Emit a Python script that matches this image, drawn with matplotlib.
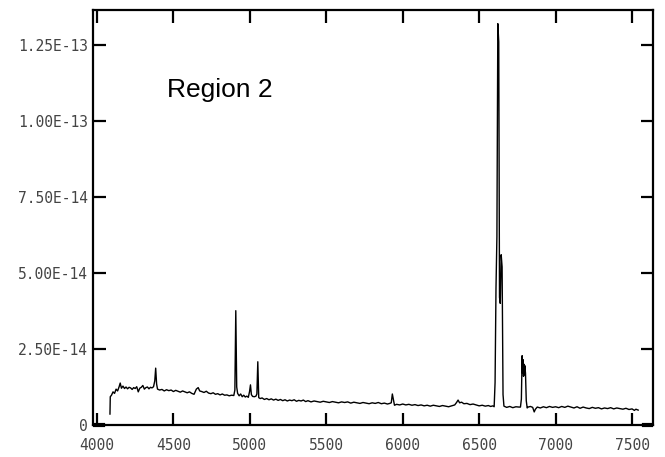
import numpy as np
import matplotlib
matplotlib.use("Agg")
import matplotlib.pyplot as plt

# spectrum of region 2: wavelength (A) and flux (units of 1e-15)
wave = [4085, 4087, 4095, 4105, 4115, 4125, 4135, 4145, 4152, 4160,
        4170, 4180, 4190, 4200, 4210, 4220, 4230, 4240, 4250, 4260,
        4270, 4280, 4290, 4300, 4310, 4320, 4330, 4340, 4350, 4360,
        4370, 4378, 4384, 4390, 4396, 4410, 4425, 4440, 4455, 4470,
        4485, 4500, 4515, 4530, 4545, 4560, 4575, 4590, 4605, 4620,
        4635, 4650, 4662, 4672, 4685, 4700, 4715, 4730, 4745, 4760,
        4775, 4790, 4805, 4820, 4835, 4850, 4865, 4880, 4895, 4902,
        4908, 4914, 4920, 4930, 4940, 4950, 4960, 4970, 4980, 4990,
        4998, 5004, 5010, 5018, 5030, 5040, 5046, 5052, 5058, 5068,
        5080, 5095, 5110, 5125, 5140, 5155, 5170, 5185, 5200, 5215,
        5230, 5245, 5260, 5275, 5290, 5305, 5320, 5335, 5350, 5365,
        5380, 5400, 5420, 5440, 5460, 5480, 5500, 5520, 5540, 5560,
        5580, 5600, 5620, 5640, 5660, 5680, 5700, 5720, 5740, 5760,
        5780, 5800, 5820, 5840, 5860, 5880, 5900, 5915, 5925, 5932,
        5938, 5946, 5960, 5980, 6000, 6020, 6040, 6060, 6080, 6100,
        6120, 6140, 6160, 6180, 6200, 6220, 6240, 6260, 6280, 6300,
        6320, 6340, 6352, 6362, 6372, 6385, 6400, 6420, 6440, 6460,
        6480, 6500, 6520, 6540, 6560, 6575, 6590, 6598, 6604, 6610,
        6616, 6622, 6628, 6633, 6638, 6644, 6650, 6656, 6662, 6680,
        6700, 6720, 6740, 6760, 6770, 6776, 6781, 6784, 6787, 6790,
        6793, 6796, 6799, 6803, 6808, 6814, 6820, 6835, 6850, 6860,
        6868, 6880, 6900, 6920, 6940, 6960, 6980, 7000, 7020, 7040,
        7060, 7080, 7100, 7120, 7140, 7160, 7180, 7200, 7220, 7240,
        7260, 7280, 7300, 7320, 7340, 7360, 7380, 7400, 7420, 7440,
        7460, 7480, 7500, 7515, 7525, 7540]
flux = [3.6, 9.3, 9.8, 10.9, 10.4, 11.8, 11.2, 12.6, 13.8, 12.1,
        12.8, 12.0, 12.5, 11.9, 12.4, 12.2, 11.7, 12.3, 12.0, 12.6,
        10.9, 12.1, 12.4, 13.0, 11.8, 12.3, 12.5, 11.9, 12.4, 12.2,
        12.6, 14.5, 18.7, 13.5, 11.8, 11.5, 11.7, 11.2, 11.6, 11.3,
        11.5, 11.0, 11.4, 11.1, 10.8, 11.2, 10.9, 10.6, 10.9, 10.4,
        10.1, 11.8, 12.3, 11.2, 11.0, 10.7, 11.1, 10.5, 10.3, 10.6,
        10.1, 10.3, 9.9, 10.2, 9.8, 9.9, 9.6, 9.8, 9.7, 11.5,
        37.6, 12.5, 10.4, 9.6, 10.2, 9.3, 9.8, 9.2, 9.5, 9.1,
        11.0, 13.2, 10.0, 9.4, 9.3, 9.5, 10.2, 20.8, 9.0, 8.7,
        8.9, 8.4, 8.7, 8.3, 8.6, 8.2, 8.5, 8.1, 8.4, 8.0,
        8.3, 7.9, 8.2, 8.0, 8.3, 7.8, 8.1, 7.9, 8.2, 7.7,
        8.0, 7.6, 7.9, 7.7, 7.5, 7.8, 7.6, 7.4, 7.7, 7.5,
        7.3, 7.6, 7.4, 7.6, 7.2, 7.5, 7.3, 7.1, 7.4, 7.2,
        7.0, 7.3, 7.1, 7.4, 7.0, 7.2, 6.9, 7.1, 7.3, 10.2,
        8.6, 6.5, 6.8, 6.6, 6.9, 6.6, 6.8, 6.5, 6.7, 6.4,
        6.6, 6.3, 6.5, 6.2, 6.5, 6.3, 6.1, 6.4, 6.2, 6.0,
        6.3, 6.6, 7.4, 8.2, 7.3, 7.5, 7.0, 7.1, 6.7, 6.9,
        6.6, 6.3, 6.5, 6.2, 6.4, 6.1, 6.3, 6.0, 14.0, 45.0,
        62.0, 132.0, 126.0, 42.0, 40.0, 56.0, 52.0, 10.0, 6.2, 5.8,
        6.1, 5.7, 6.0, 5.9, 5.9, 8.5, 22.8, 17.0, 21.5, 16.0,
        20.0, 16.5, 19.5, 17.0, 8.0, 5.6, 5.9, 6.1, 5.8, 4.3,
        5.2, 5.9, 5.6, 6.0, 5.7, 6.1, 5.8, 6.0, 5.7, 6.1,
        5.8, 6.2, 5.9, 5.6, 6.0, 5.5, 5.9, 5.6, 5.4, 5.8,
        5.5, 5.7, 5.3, 5.6, 5.4, 5.7, 5.3, 5.6, 5.4, 5.2,
        5.5, 5.1, 5.3, 4.8, 5.2, 4.9]

# zero-flux stretches outside the observed range
pad_left = [3974, 4052]
pad_right = [7565, 7637]

xticks = [4000, 4500, 5000, 5500, 6000, 6500, 7000, 7500]
yticks = [0, 2.5e-14, 5.0e-14, 7.5e-14, 1.0e-13, 1.25e-13]
ylabels = ["0", "2.50E-14", "5.00E-14", "7.50E-14", "1.00E-13", "1.25E-13"]

wave = np.array(wave)
flux = np.array(flux) * 1e-15

fig = plt.figure(figsize=(6.65, 4.57), dpi=100)
ax = fig.add_axes([93/665, 1 - 425/457, 560/665, 415/457])

ax.plot(wave, flux, color='black', lw=1.0)
ax.plot(pad_left, [0, 0], color='black', lw=3, clip_on=False, solid_capstyle='butt')
ax.plot(pad_right, [0, 0], color='black', lw=3, clip_on=False, solid_capstyle='butt')

ax.set_xlim(3974, 7637)
ax.set_ylim(0, 1.365e-13)
ax.set_xticks(xticks)
ax.set_yticks(yticks)
ax.set_yticklabels(ylabels)

for s in ax.spines.values():
    s.set_linewidth(1.6)
ax.tick_params(direction='in', length=9, width=1.6, top=True, right=True,
               labelsize=10.5, labelcolor='#444444')
ax.tick_params(axis='x', pad=9)
ax.tick_params(axis='y', pad=3.5)
for lab in ax.get_xticklabels() + ax.get_yticklabels():
    lab.set_family('DejaVu Sans Mono')

fig.text(167/665, 1 - 97/457, "Region 2", family='Liberation Sans', fontsize=19,
         va='baseline', ha='left')

fig.savefig("out.png", dpi=100)
